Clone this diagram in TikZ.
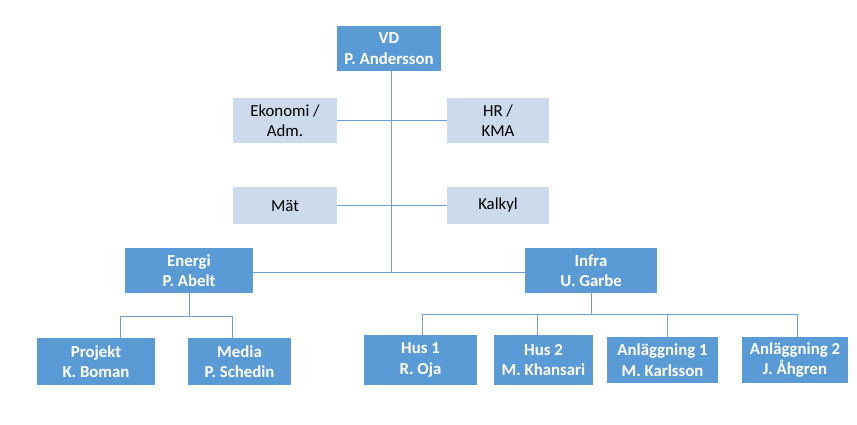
\documentclass[tikz,border=0pt]{standalone}
\usepackage{fontspec}
\setmainfont{Carlito}
\usepackage{tikz}
\usetikzlibrary{positioning,calc}
\definecolor{boxblue}{HTML}{5B9BD5}
\definecolor{boxlight}{HTML}{CCDAEB}
\definecolor{lineblue}{HTML}{6E9FD3}
\newcommand{\orgfont}{\fontsize{16.8}{20.5}\selectfont}

\begin{document}
\begin{tikzpicture}[x=1pt,y=-1pt,
    head/.style={fill=boxblue,text=white,font=\orgfont\bfseries,align=center,inner sep=0pt},
    staff/.style={fill=boxlight,text=black,font=\orgfont,align=center,inner sep=0pt},
    link/.style={draw=lineblue,line width=0.9pt}]
                    \useasboundingbox (0,0) rectangle (857,424);
                    \node[head,minimum width=104,minimum height=45] (vd) at (389,48.5) {VD\\P. Andersson};
                    \node[staff,minimum width=104,minimum height=45] (eko) at (285,120.5) {Ekonomi /\\Adm.};
                    \node[staff,minimum width=102,minimum height=45] (hr) at (498,120.5) {HR /\\KMA};
                    \node[staff,minimum width=104,minimum height=37] (mat) at (285,205.5) {Mät};
                    \node[staff,minimum width=102,minimum height=37] (kalkyl) at (498,205.5) {Kalkyl};
                    \node[head,minimum width=128,minimum height=45] (energi) at (189,270.5) {Energi\\P. Abelt};
                    \node[head,minimum width=132,minimum height=45] (infra) at (591,270.5) {Infra\\U. Garbe};
                    \node[head,minimum width=118,minimum height=47] (projekt) at (96,361.5) {Projekt\\K. Boman};
                    \node[head,minimum width=103,minimum height=47] (media) at (239.5,361.5) {Media\\P. Schedin};
                    \node[head,minimum width=113,minimum height=50] (hus1) at (420.5,360) {Hus 1\\R. Oja};
                    \node[head,minimum width=99,minimum height=50] (hus2) at (543.5,360) {Hus 2\\M. Khansari};
                    \node[head,minimum width=111,minimum height=46] (anl1) at (662.5,360) {Anläggning 1\\M. Karlsson};
                    \node[head,minimum width=106,minimum height=46] (anl2) at (795,360) {Anläggning 2\\J. Åhgren};
                    \coordinate (hub) at (391,272);
                    \coordinate (ebarl) at (120,316);
                    \coordinate (ebarr) at (232,316);
                    \coordinate (ibar1) at (422,314);
                    \coordinate (ibar2) at (537,314);
                    \coordinate (ibar3) at (667,314);
                    \coordinate (ibar4) at (797,314);
                    \draw[link] (vd.south -| hub) -- (hub);
                    \draw[link] (eko) -- (hr);
                    \draw[link] (mat) -- (kalkyl);
                    \draw[link] (energi.east |- hub) -- (infra.west |- hub);
                    \draw[link] (energi.south) -- (energi.south |- ebarl);
                    \draw[link] (ebarl) -- (ebarr);
                    \draw[link] (ebarl) -- (ebarl |- projekt.north);
                    \draw[link] (ebarr) -- (ebarr |- media.north);
                    \draw[link] (infra.south) -- (infra.south |- ibar1);
                    \draw[link] (ibar1) -- (ibar4);
                    \draw[link] (ibar1) -- (ibar1 |- hus1.north);
                    \draw[link] (ibar2) -- (ibar2 |- hus2.north);
                    \draw[link] (ibar3) -- (ibar3 |- anl1.north);
                    \draw[link] (ibar4) -- (ibar4 |- anl2.north);
\end{tikzpicture}
\end{document}
